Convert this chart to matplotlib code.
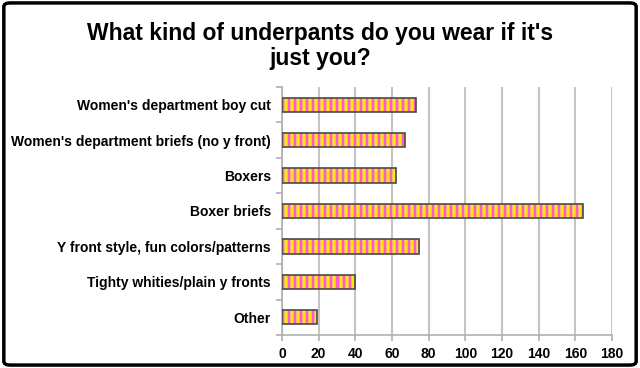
import numpy as np
import matplotlib
matplotlib.use("Agg")
import matplotlib.pyplot as plt
from matplotlib.patches import FancyBboxPatch

plt.rcParams['font.family'] = ['Liberation Sans', 'DejaVu Sans']

categories = [
    "Women's department boy cut",
    "Women's department briefs (no y front)",
    "Boxers",
    "Boxer briefs",
    "Y front style, fun colors/patterns",
    "Tighty whities/plain y fronts",
    "Other",
]
counts = [73, 67, 62, 164, 75, 40, 19]
x_ticks = [0, 20, 40, 60, 80, 100, 120, 140, 160, 180]

title = "What kind of underpants do you wear if it's\njust you?"

fig = plt.figure(figsize=(6.4, 3.68), dpi=100)
ax = fig.add_axes([0.4406, 0.0897, 0.5156, 0.6739])

ypos = np.arange(len(categories))
bar_h = 0.4
xmax = 180

# striped fill: pink / peach / yellow / peach
pink = np.array([255, 90, 200]) / 255
peach = np.array([255, 175, 120]) / 255
yellow = np.array([255, 235, 0]) / 255
unit = [pink, pink, peach, yellow, yellow, peach]
ncols = 55 * len(unit)
stripes = np.array([unit[i % len(unit)] for i in range(ncols)])[None, :, :]

bars = ax.barh(ypos, counts, height=bar_h, color='none', edgecolor='none', zorder=2)
for rect in bars:
    y0 = rect.get_y()
    im = ax.imshow(stripes, extent=[0, xmax, y0, y0 + bar_h], aspect='auto',
                   interpolation='nearest', zorder=2, origin='upper')
    im.set_clip_path(rect)
ax.barh(ypos, counts, height=bar_h, color='none', edgecolor='#4a4a4a',
        linewidth=1.2, zorder=3)

ax.set_xlim(0, xmax)
ax.set_ylim(len(categories) - 0.5, -0.5)
ax.set_xticks(x_ticks)
ax.set_xticklabels([str(v) for v in x_ticks], fontsize=10, fontweight='bold')
ax.set_yticks(ypos)
ax.set_yticklabels(categories, fontsize=10, fontweight='bold')
ax.tick_params(axis='y', length=0, pad=8)
ax.tick_params(axis='x', length=4, color='#b0b0b0', width=1.2, pad=5)

# minor ticks between categories on the value axis
ax.set_yticks(np.arange(-0.5, len(categories) + 0.5, 1), minor=True)
ax.tick_params(axis='y', which='minor', length=4, color='#b0b0b0', width=1.2)

ax.grid(axis='x', color='#c4c4c4', linewidth=1.5, zorder=0)
ax.set_axisbelow(True)
for side in ['top', 'right']:
    ax.spines[side].set_visible(False)
for side in ['left', 'bottom']:
    ax.spines[side].set_color('#b0b0b0')
    ax.spines[side].set_linewidth(1.2)

fig.text(0.5, 0.875, title, ha='center', va='center', fontsize=16.5,
         fontweight='bold', linespacing=1.15)

frame = FancyBboxPatch((0.006, 0.008), 0.988, 0.984,
                       boxstyle='round,pad=0,rounding_size=0.01',
                       transform=fig.transFigure, fill=False,
                       edgecolor='black', linewidth=2.5)
fig.patches.append(frame)

fig.savefig('out.png', dpi=100)
